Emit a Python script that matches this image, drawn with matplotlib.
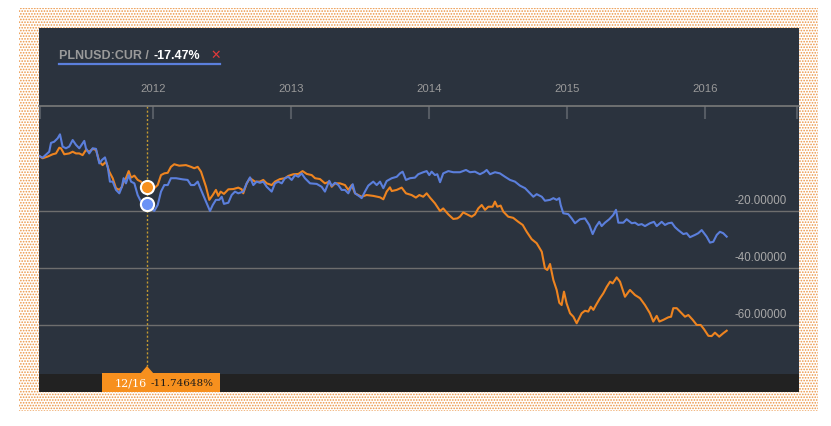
import matplotlib
matplotlib.use("Agg")
import matplotlib.pyplot as plt
from matplotlib.patches import Rectangle, Polygon
from matplotlib.lines import Line2D

# =====================
# DATA (decimal year, % change)
# =====================
blue_t = [2011.176, 2011.200, 2011.248, 2011.261, 2011.284, 2011.309, 2011.326, 2011.345, 2011.369, 2011.393,
          2011.418, 2011.442, 2011.466, 2011.502, 2011.514, 2011.538, 2011.563, 2011.587, 2011.611, 2011.630,
          2011.652, 2011.672, 2011.688, 2011.708, 2011.732, 2011.756, 2011.775, 2011.787, 2011.804, 2011.824,
          2011.841, 2011.865, 2011.889, 2011.913, 2011.956, 2012.009, 2012.034, 2012.058, 2012.082, 2012.107,
          2012.130, 2012.167, 2012.215, 2012.251, 2012.275, 2012.299, 2012.324, 2012.348, 2012.384, 2012.413,
          2012.433, 2012.456, 2012.480, 2012.498, 2012.514, 2012.546, 2012.570, 2012.594, 2012.618, 2012.654,
          2012.679, 2012.703, 2012.727, 2012.751, 2012.775, 2012.799, 2012.824, 2012.860, 2012.884, 2012.908,
          2012.933, 2012.956, 2012.980, 2013.005, 2013.029, 2013.053, 2013.077, 2013.101, 2013.138, 2013.186,
          2013.222, 2013.246, 2013.277, 2013.295, 2013.319, 2013.343, 2013.367, 2013.391, 2013.415, 2013.447,
          2013.464, 2013.500, 2013.512, 2013.536, 2013.560, 2013.596, 2013.621, 2013.645, 2013.669, 2013.693,
          2013.730, 2013.766, 2013.790, 2013.809, 2013.833, 2013.862, 2013.898, 2013.922, 2013.958, 2013.983,
          2014.002, 2014.019, 2014.043, 2014.060, 2014.080, 2014.103, 2014.140, 2014.176, 2014.224, 2014.268,
          2014.297, 2014.333, 2014.369, 2014.398, 2014.418, 2014.442, 2014.478, 2014.514, 2014.551, 2014.587,
          2014.623, 2014.659, 2014.696, 2014.732, 2014.756, 2014.780, 2014.817, 2014.840, 2014.877, 2014.901,
          2014.925, 2014.944, 2014.954, 2014.973, 2015.009, 2015.034, 2015.058, 2015.094, 2015.130, 2015.161,
          2015.186, 2015.210, 2015.234, 2015.251, 2015.275, 2015.306, 2015.335, 2015.355, 2015.372, 2015.408,
          2015.432, 2015.469, 2015.493, 2015.517, 2015.541, 2015.565, 2015.601, 2015.630, 2015.650, 2015.686,
          2015.710, 2015.734, 2015.759, 2015.783, 2015.806, 2015.843, 2015.867, 2015.891, 2015.927, 2015.951,
          2015.976, 2016.012, 2016.036, 2016.060, 2016.085, 2016.108, 2016.132, 2016.157]
blue_v = [-0.7, -1.3, 0.8, 3.9, 4.3, 5.5, 6.9, 2.6, 2.0, 2.6,
          4.9, 3.2, 2.0, 4.6, 2.0, 0.2, 2.0, 1.8, -3.3, -2.1,
          -1.2, -4.5, -9.7, -9.7, -12.6, -13.8, -11.5, -8.5, -10.3, -7.4,
          -9.7, -10.3, -14.4, -16.7, -17.5, -20.0, -17.9, -13.2, -10.9, -10.9,
          -8.5, -8.5, -8.9, -9.1, -10.9, -10.9, -9.7, -12.6, -16.7, -20.0,
          -17.9, -16.1, -16.1, -15.0, -17.5, -17.1, -14.4, -13.2, -13.8, -13.2,
          -10.3, -8.2, -10.9, -9.7, -10.1, -9.7, -11.5, -13.2, -10.3, -9.7,
          -10.3, -8.5, -8.0, -9.1, -7.4, -8.0, -6.8, -8.5, -10.3, -10.5,
          -11.5, -13.2, -9.4, -11.2, -10.1, -10.9, -12.6, -12.6, -13.8, -10.6,
          -13.8, -15.0, -15.5, -13.2, -11.1, -9.7, -10.9, -9.7, -12.0, -9.5,
          -8.5, -8.0, -6.8, -6.2, -9.1, -8.5, -8.3, -7.1, -6.4, -6.0,
          -7.4, -6.2, -7.4, -7.1, -9.9, -6.8, -6.0, -6.4, -6.4, -5.6,
          -6.4, -6.2, -7.1, -6.4, -5.6, -7.1, -6.4, -6.8, -8.0, -9.1,
          -9.7, -11.1, -12.0, -13.8, -15.0, -14.1, -15.0, -16.4, -16.1, -15.5,
          -16.1, -15.5, -17.9, -20.8, -21.1, -22.6, -24.3, -22.9, -22.6, -24.9,
          -28.1, -25.5, -23.8, -25.3, -24.1, -22.9, -21.4, -19.6, -24.1, -24.1,
          -22.9, -24.3, -24.1, -24.9, -24.6, -25.3, -24.3, -23.8, -25.3, -23.8,
          -24.9, -24.3, -24.1, -25.7, -26.7, -28.1, -27.8, -29.2, -28.4, -27.8,
          -26.7, -29.0, -31.1, -30.8, -28.4, -27.3, -27.8, -29.0]

orange_t = [2011.176, 2011.200, 2011.237, 2011.273, 2011.297, 2011.321, 2011.333, 2011.357, 2011.393, 2011.418,
            2011.442, 2011.466, 2011.490, 2011.514, 2011.538, 2011.563, 2011.587, 2011.611, 2011.635, 2011.659,
            2011.683, 2011.708, 2011.732, 2011.756, 2011.775, 2011.792, 2011.804, 2011.824, 2011.841, 2011.865,
            2011.889, 2011.913, 2011.935, 2011.956, 2012.009, 2012.034, 2012.058, 2012.082, 2012.107, 2012.130,
            2012.154, 2012.190, 2012.239, 2012.275, 2012.299, 2012.324, 2012.348, 2012.384, 2012.408, 2012.433,
            2012.456, 2012.473, 2012.490, 2012.514, 2012.546, 2012.582, 2012.618, 2012.643, 2012.654, 2012.679,
            2012.703, 2012.739, 2012.775, 2012.799, 2012.824, 2012.860, 2012.884, 2012.920, 2012.956, 2012.980,
            2013.017, 2013.053, 2013.084, 2013.114, 2013.150, 2013.174, 2013.210, 2013.246, 2013.277, 2013.295,
            2013.319, 2013.355, 2013.391, 2013.415, 2013.440, 2013.464, 2013.512, 2013.548, 2013.596, 2013.645,
            2013.669, 2013.693, 2013.717, 2013.730, 2013.766, 2013.802, 2013.833, 2013.874, 2013.905, 2013.930,
            2013.958, 2013.983, 2014.007, 2014.043, 2014.080, 2014.103, 2014.140, 2014.176, 2014.205, 2014.224,
            2014.248, 2014.277, 2014.309, 2014.333, 2014.357, 2014.382, 2014.406, 2014.430, 2014.461, 2014.478,
            2014.495, 2014.519, 2014.538, 2014.574, 2014.610, 2014.647, 2014.679, 2014.708, 2014.744, 2014.780,
            2014.817, 2014.840, 2014.857, 2014.877, 2014.901, 2014.925, 2014.944, 2014.961, 2014.978, 2014.997,
            2015.022, 2015.046, 2015.070, 2015.094, 2015.106, 2015.130, 2015.154, 2015.172, 2015.191, 2015.210,
            2015.239, 2015.263, 2015.288, 2015.312, 2015.331, 2015.360, 2015.384, 2015.420, 2015.456, 2015.493,
            2015.529, 2015.565, 2015.601, 2015.625, 2015.650, 2015.669, 2015.698, 2015.734, 2015.754, 2015.770,
            2015.795, 2015.831, 2015.855, 2015.879, 2015.911, 2015.940, 2015.969, 2015.993, 2016.024, 2016.048,
            2016.072, 2016.103, 2016.132, 2016.157]
orange_v = [-0.7, -1.5, -0.9, -0.1, 0.2, 2.2, 2.0, -0.1, 0.2, 0.8,
            0.2, 0.2, -0.4, 1.4, 0.8, 1.8, 1.4, -2.7, -3.9, -2.7,
            -6.2, -8.5, -12.0, -12.6, -11.5, -9.1, -8.5, -6.0, -8.3, -7.6,
            -9.1, -9.7, -11.2, -11.7, -12.0, -10.9, -7.4, -6.8, -6.6, -4.5,
            -3.6, -4.1, -3.9, -4.5, -5.0, -4.5, -6.2, -11.5, -16.1, -14.4,
            -12.6, -14.7, -13.2, -14.0, -12.4, -12.3, -11.8, -12.4, -13.8, -10.3,
            -8.5, -9.7, -9.7, -9.1, -10.3, -10.9, -9.7, -8.8, -8.5, -7.7,
            -7.1, -7.0, -6.0, -7.0, -7.4, -8.5, -8.8, -10.3, -9.7, -11.5,
            -10.3, -10.3, -10.9, -12.6, -10.9, -13.8, -15.0, -14.4, -14.7, -15.2,
            -15.9, -13.2, -11.7, -13.0, -12.6, -11.8, -13.8, -14.4, -15.3, -14.4,
            -15.0, -13.8, -15.3, -17.3, -20.0, -19.1, -21.2, -22.8, -22.6, -22.0,
            -20.5, -21.2, -22.0, -21.2, -19.1, -17.9, -19.6, -18.5, -18.5, -16.7,
            -18.5, -18.1, -20.2, -22.0, -22.4, -23.8, -24.9, -27.3, -29.9, -31.3,
            -34.3, -40.1, -40.7, -38.6, -44.2, -47.7, -52.2, -53.0, -48.3, -52.4,
            -55.9, -57.1, -59.4, -57.1, -55.9, -55.0, -55.3, -53.6, -54.7, -53.0,
            -50.6, -48.9, -46.6, -44.8, -45.4, -43.3, -44.8, -50.1, -47.7, -49.5,
            -50.6, -53.0, -55.9, -58.8, -56.8, -58.8, -58.2, -57.3, -57.1, -54.1,
            -54.1, -55.9, -57.1, -56.5, -58.2, -60.0, -60.0, -61.5, -63.8, -63.9,
            -62.7, -64.1, -62.9, -62.0]

year_ticks = [2012, 2013, 2014, 2015, 2016]
grid_levels = [-20, -40, -60]
grid_labels = ["-20.00000", "-40.00000", "-60.00000"]

cursor_t = 2011.956
cursor_blue = -17.47
cursor_orange = -11.74648
cursor_date = "12/16"
legend_name = "PLNUSD:CUR / "
legend_value = "-17.47%"

# =====================
# STYLE
# =====================
W, H = 831, 426
PANEL = "#2b333e"
STRIP = "#222222"
BLUE = "#5b7fdc"
ORANGE = "#ee8420"
FRAME = "#eb9444"
plt.rcParams["font.family"] = ["Liberation Sans", "DejaVu Sans"]
plt.rcParams["hatch.linewidth"] = 0.8


def fx(x):
    return x / W


def fy(y):
    return 1 - y / H


fig = plt.figure(figsize=(W / 100, H / 100), dpi=100)
fig.patch.set_facecolor("white")

# dotted frame + dark panel
fig.add_artist(Rectangle((fx(19), fy(411)), fx(818) - fx(19), fy(8) - fy(411),
                         transform=fig.transFigure, facecolor="white",
                         edgecolor=FRAME, hatch="......", lw=0, zorder=-3))
fig.add_artist(Rectangle((fx(39), fy(392)), fx(799) - fx(39), fy(28) - fy(392),
                         transform=fig.transFigure, facecolor=PANEL, lw=0, zorder=-2))
fig.add_artist(Rectangle((fx(39), fy(392)), fx(799) - fx(39), fy(374) - fy(392),
                         transform=fig.transFigure, facecolor=STRIP, lw=0, zorder=-1))

# =====================
# MAIN AXES
# =====================
ax = fig.add_axes([fx(39), fy(374), fx(799) - fx(39), fy(106) - fy(374)])
ax.set_zorder(1)
ax.set_facecolor("none")
ax.set_xlim(2011.174, 2016.681)
ax.set_ylim(-77.2, 16.84)

for s in ["left", "right", "bottom"]:
    ax.spines[s].set_visible(False)
ax.spines["top"].set_color("#7a7a7a")
ax.spines["top"].set_linewidth(1.2)

ax.xaxis.tick_top()
ax.set_xticks(year_ticks)
ax.set_xticklabels([str(y) for y in year_ticks])
ax.set_xticks([2011.181, 2016.667], minor=True)
ax.tick_params(axis="x", which="both", direction="in", length=9, width=1.5,
               color="#555b63", pad=9, labelsize=8.2, labelcolor="#9a9a9a")
ax.set_yticks(grid_levels)
ax.set_yticklabels([])
ax.tick_params(axis="y", length=0)
ax.grid(axis="y", color="#6e6e6e", lw=1)

for lvl, lab in zip(grid_levels, grid_labels):
    ax.annotate(lab, xy=(0.984, lvl), xycoords=ax.get_yaxis_transform(),
                xytext=(0, 3), textcoords="offset points",
                ha="right", va="bottom", fontsize=8.3, color="#a8a8a8")

ax.plot(orange_t, orange_v, color=ORANGE, lw=1.5, zorder=3)
ax.plot(blue_t, blue_v, color=BLUE, lw=1.5, zorder=4)

# cursor
ax.plot([cursor_t, cursor_t], [16.84, -74.5], color="#c49a30", lw=1,
        ls=(0, (1.5, 1.5)), zorder=2, clip_on=False)
ax.plot([cursor_t], [cursor_orange], "o", ms=9.5, mfc="#f7901e", mec="white", mew=1.5, zorder=6)
ax.plot([cursor_t], [cursor_blue], "o", ms=9.5, mfc="#6b93f5", mec="white", mew=1.5, zorder=6)

# tooltip box at the bottom
fig.add_artist(Rectangle((fx(102), fy(392)), fx(220) - fx(102), fy(373) - fy(392),
                         transform=fig.transFigure, facecolor="#f7901e", lw=0, zorder=5))
fig.add_artist(Polygon([(fx(140), fy(374)), (fx(154), fy(374)), (fx(147), fy(366))],
                       closed=True, transform=fig.transFigure, facecolor="#f7901e", lw=0, zorder=5))
fig.text(fx(115), fy(383), cursor_date, ha="left", va="center", fontsize=8,
         color="white", family="DejaVu Serif", zorder=6)
fig.text(fx(151), fy(383), f"{cursor_orange:.5f}%", ha="left", va="center", fontsize=7.5,
         color="#1a1a1a", family="DejaVu Serif", zorder=6)

# legend
fig.text(fx(59), fy(59), legend_name, ha="left", va="baseline", fontsize=9,
         color="#9a9a9a", weight="bold", zorder=6)
fig.text(fx(153), fy(59), legend_value, ha="left", va="baseline", fontsize=9,
         color="white", weight="bold", zorder=6)
fig.text(fx(210), fy(59), "\u2715", ha="left", va="baseline", fontsize=9,
         color="#e0393a", family="DejaVu Sans", zorder=6)
fig.add_artist(Line2D([fx(59), fx(220)], [fy(64), fy(64)], transform=fig.transFigure,
                      color=BLUE, lw=1.6, zorder=6))

fig.savefig("out.png", dpi=100)
